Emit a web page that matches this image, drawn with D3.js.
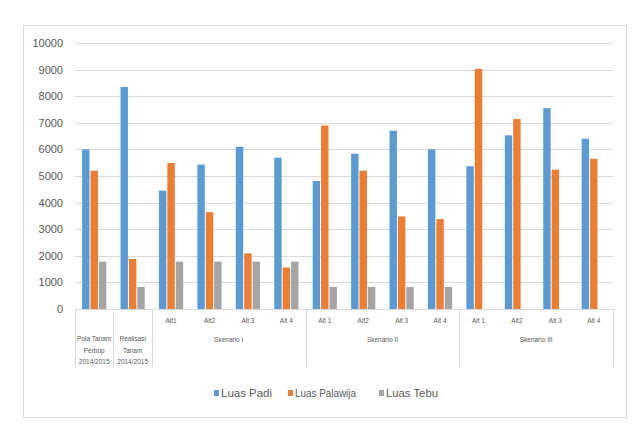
<!DOCTYPE html>
<html>
<head>
<meta charset="utf-8">
<script src="https://cdn.jsdelivr.net/npm/d3@7"></script>
<style>
  body { margin: 0; background: #fff; }
  text { font-family: "Liberation Sans", Arial, sans-serif; fill: #595959; }
</style>
</head>
<body>
<div id="chart"></div>
<script>
// categories and their group (second axis level)
const categories = ["c0", "c1", "s1a1", "s1a2", "s1a3", "s1a4", "s2a1", "s2a2", "s2a3", "s2a4", "s3a1", "s3a2", "s3a3", "s3a4"]
const altLabels  = ["", "", "Alt1", "Alt2", "Alt 3", "Alt 4", "Alt 1", "Alt2", "Alt 3", "Alt 4", "Alt 1", "Alt2", "Alt 3", "Alt 4"]
const groups = [
    {name: ["Pola Tanam", "Perbup", "2014/2015"], from: 0, to: 0},
    {name: ["Realisasi", "Tanam", "2014/2015"], from: 1, to: 1},
    {name: ["Skenario I"], from: 2, to: 5},
    {name: ["Skenario II"], from: 6, to: 9},
    {name: ["Skenario III"], from: 10, to: 13}
]
const seriesNames = ["Luas Padi", "Luas Palawija", "Luas Tebu"]
const luasPadi     = [6000, 8350, 4450, 5430, 6100, 5690, 4810, 5840, 6700, 6000, 5370, 6530, 7550, 6400]
const luasPalawija = [5200, 1880, 5490, 3640, 2090, 1560, 6900, 5200, 3480, 3380, 9030, 7140, 5240, 5650]
const luasTebu     = [1780, 830, 1780, 1780, 1780, 1780, 830, 830, 830, 830, 0, 0, 0, 0]
const yTicks = [0, 1000, 2000, 3000, 4000, 5000, 6000, 7000, 8000, 9000, 10000]
const colors = ["#5b9bd5", "#ed7d31", "#a5a5a5"]

const dimensions = {
    width: 640,
    height: 434,
    margin: {top: 43, bottom: 125, left: 75, right: 27}
}
const plotBottom = dimensions.height - dimensions.margin.bottom

const svg = d3.select('#chart')
    .append("svg")
    .attr("width", dimensions.width)
    .attr("height", dimensions.height)

// outer frame
svg.append("rect")
    .attr("x", 23.5).attr("y", 25.5)
    .attr("width", 603).attr("height", 392)
    .attr("fill", "none")
    .attr("stroke", "#d9d9d9")

const xScale = d3.scaleBand()
    .domain(categories)
    .range([dimensions.margin.left, dimensions.width - dimensions.margin.right])
    .paddingInner(0.37)
    .paddingOuter(0.185)

const xSub = d3.scaleBand()
    .domain(seriesNames)
    .range([0, xScale.bandwidth()])
    .paddingInner(0.12)

const yScale = d3.scaleLinear()
    .domain([0, 10000])
    .range([plotBottom, dimensions.margin.top])

// gridlines
svg.append("g")
    .selectAll("line")
    .data(yTicks)
    .join("line")
    .attr("x1", dimensions.margin.left)
    .attr("x2", dimensions.width - dimensions.margin.right)
    .attr("y1", d => Math.round(yScale(d)) + 0.5)
    .attr("y2", d => Math.round(yScale(d)) + 0.5)
    .attr("stroke", "#d9d9d9")

// y axis labels
const yAxis = d3.axisLeft(yScale).tickValues(yTicks).tickFormat(d3.format("d")).tickSize(0).tickPadding(12)
svg.append("g")
    .attr("transform", `translate(${dimensions.margin.left}, 0)`)
    .call(yAxis)
    .call(g => g.select(".domain").remove())
    .selectAll("text")
    .style("font-size", "11px")
    .style("font-family", "\"Liberation Sans\", Arial, sans-serif")
    .attr("fill", "#595959")

// bars
const seriesData = [luasPadi, luasPalawija, luasTebu]
seriesData.forEach((vals, s) => {
    svg.append("g")
        .selectAll("rect")
        .data(vals)
        .join("rect")
        .attr("x", (d, i) => xScale(categories[i]) + xSub(seriesNames[s]))
        .attr("width", xSub.bandwidth())
        .attr("y", d => yScale(d))
        .attr("height", d => plotBottom - yScale(d))
        .attr("fill", colors[s])
})

// category axis (two levels)
const step = xScale.step()
const catLeft = i => dimensions.margin.left + i * step
const axisG = svg.append("g").attr("stroke", "#d9d9d9")
axisG.append("line")
    .attr("x1", dimensions.margin.left).attr("x2", dimensions.width - dimensions.margin.right)
    .attr("y1", plotBottom + 0.5).attr("y2", plotBottom + 0.5)
const dividers = [0, ...groups.map(g => g.to + 1)]
axisG.selectAll("line.div")
    .data(dividers)
    .join("line")
    .attr("class", "div")
    .attr("x1", d => Math.round(catLeft(d)) + 0.5)
    .attr("x2", d => Math.round(catLeft(d)) + 0.5)
    .attr("y1", plotBottom)
    .attr("y2", plotBottom + 58)

svg.append("g")
    .selectAll("text")
    .data(altLabels)
    .join("text")
    .attr("x", (d, i) => xScale(categories[i]) + xScale.bandwidth() / 2)
    .attr("y", plotBottom + 14)
    .attr("text-anchor", "middle")
    .style("font-size", "6.5px")
    .text(d => d)

const groupText = svg.append("g")
    .selectAll("text")
    .data(groups)
    .join("text")
    .attr("text-anchor", "middle")
    .attr("x", d => (catLeft(d.from) + catLeft(d.to + 1)) / 2)
    .attr("y", d => d.name.length > 1 ? plotBottom + 32 : plotBottom + 33)
    .style("font-size", "6.5px")
groupText.selectAll("tspan")
    .data(d => d.name.map((t, k) => ({t, k, x: (catLeft(d.from) + catLeft(d.to + 1)) / 2})))
    .join("tspan")
    .attr("x", d => d.x)
    .attr("dy", d => d.k === 0 ? 0 : 11.5)
    .text(d => d.t)

// legend
const legendX = [214, 288, 379]
const legendW = [51, 61, 52]
const legend = svg.append("g")
    .selectAll("g")
    .data(seriesNames)
    .join("g")
    .attr("transform", (d, i) => `translate(${legendX[i]}, 393)`)
legend.append("rect")
    .attr("x", 0).attr("y", -3)
    .attr("width", 5).attr("height", 6)
    .attr("fill", (d, i) => colors[i])
legend.append("text")
    .attr("x", 7).attr("y", 4)
    .style("font-size", "11.5px")
    .attr("textLength", (d, i) => legendW[i])
    .attr("lengthAdjust", "spacingAndGlyphs")
    .text(d => d)
</script>
</body>
</html>
